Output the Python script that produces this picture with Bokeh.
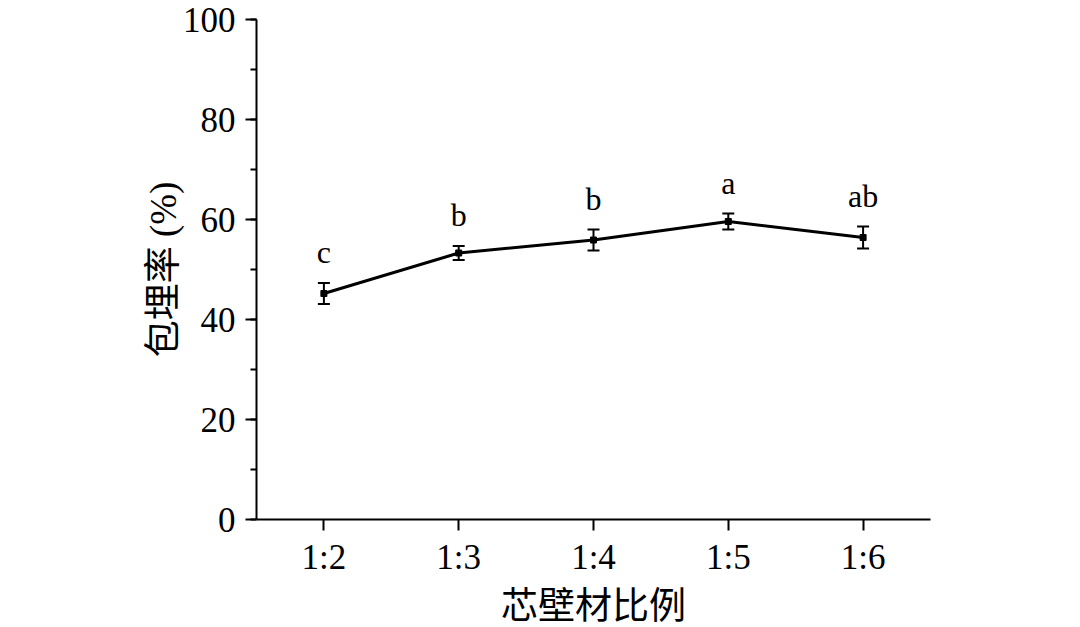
from bokeh.plotting import figure
from bokeh.models import (ColumnDataSource, FixedTicker, SingleIntervalTicker, Range1d,
                          Whisker, TeeHead, LabelSet)
from bokeh.embed import file_html
from bokeh.resources import INLINE

# ---- data ----
ratios = ["1:2", "1:3", "1:4", "1:5", "1:6"]
rate = [45.2, 53.3, 55.9, 59.6, 56.4]
err = [2.1, 1.4, 2.1, 1.6, 2.2]
letters = ["c", "b", "b", "a", "ab"]

xs = list(range(1, len(ratios) + 1))
upper = [r + e for r, e in zip(rate, err)]
lower = [r - e for r, e in zip(rate, err)]
src = ColumnDataSource(dict(x=xs, y=rate, upper=upper, lower=lower, lab=letters))

SERIF = "'Liberation Serif', 'Times New Roman', serif"
CJK = "'Liberation Serif', 'Noto Sans CJK SC', serif"

p = figure(frame_width=674, frame_height=500, output_backend="svg", toolbar_location=None,
           x_range=Range1d(0.5, 5.5), y_range=Range1d(0, 100),
           min_border_left=256, min_border_right=140, min_border_top=19,
           min_border_bottom=100)
p.outline_line_color = None
p.xgrid.visible = False
p.ygrid.visible = False
p.background_fill_color = "white"
p.border_fill_color = "white"

# x axis
p.xaxis.ticker = FixedTicker(ticks=xs, minor_ticks=[])
p.xaxis.major_label_overrides = {i: r for i, r in zip(xs, ratios)}
p.xaxis.axis_label = "芯壁材比例"
# y axis
p.yaxis.ticker = SingleIntervalTicker(interval=20, num_minor_ticks=2)
p.yaxis.axis_label = "包埋率 (%)"

for ax in (p.xaxis[0], p.yaxis[0]):
    ax.axis_line_width = 2
    ax.axis_line_color = "black"
    ax.major_tick_line_width = 2
    ax.major_tick_line_color = "black"
    ax.minor_tick_line_width = 2
    ax.minor_tick_line_color = "black"
    ax.major_tick_in = 0
    ax.major_tick_out = 11
    ax.minor_tick_in = 0
    ax.minor_tick_out = 6
    ax.major_label_text_font = SERIF
    ax.major_label_text_font_size = "35px"
    ax.major_label_text_color = "black"
    ax.axis_label_text_font = CJK
    ax.axis_label_text_font_size = "37px"
    ax.axis_label_text_font_style = "normal"
    ax.axis_label_text_color = "black"

p.xaxis.major_label_standoff = 7
p.xaxis.axis_label_standoff = 6
p.yaxis.major_label_standoff = 10
p.yaxis.axis_label_standoff = -4

# line + markers
p.line("x", "y", source=src, line_color="black", line_width=3)
p.scatter("x", "y", source=src, marker="square", size=6, color="black")

# error bars
w = Whisker(base="x", upper="upper", lower="lower", source=src,
            line_color="black", line_width=2,
            upper_head=TeeHead(size=12, line_width=2, line_color="black"),
            lower_head=TeeHead(size=12, line_width=2, line_color="black"))
p.add_layout(w)

# significance letters
labels = LabelSet(x="x", y="upper", text="lab", source=src, y_offset=20,
                  text_align="center", text_baseline="alphabetic",
                  text_font=SERIF, text_font_size="32px", text_color="black")
p.add_layout(labels)

open("out.html", "w").write(file_html(p, INLINE))
